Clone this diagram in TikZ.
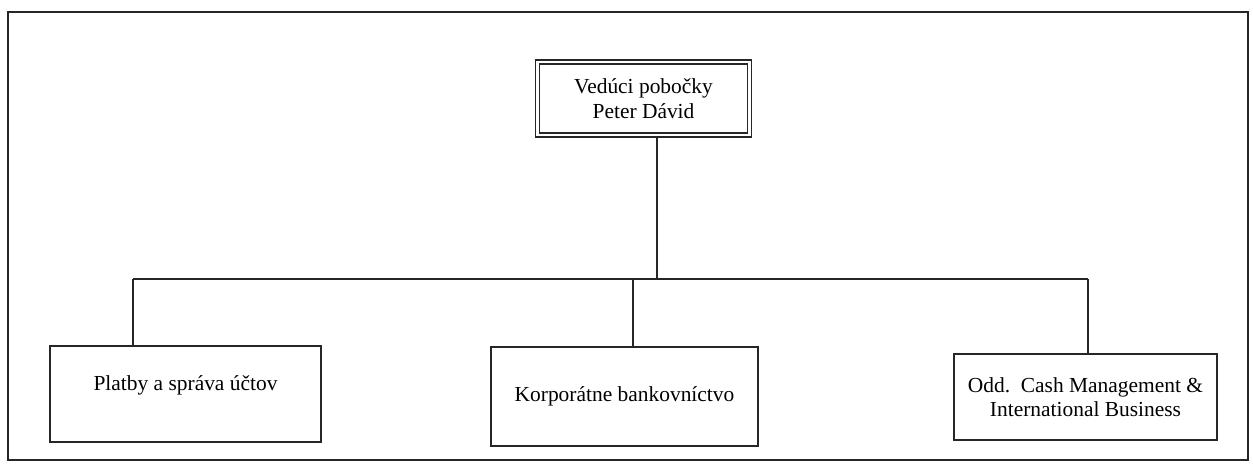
\documentclass[tikz,border=0pt]{standalone}
\usepackage{fontspec}
\setmainfont{Liberation Serif}
\usepackage{tikz}

\tikzset{
  unitbox/.style={draw=black!85, line width=0.8pt, rectangle, align=center,
    inner sep=2pt, font=\fontsize{12.2}{14}\selectfont},
  bossbox/.style={unitbox, double, double distance=1.5pt, line width=0.9pt},
  wire/.style={draw=black!85, line width=0.8pt}
}

\begin{document}
\begin{tikzpicture}[x=0.02cm, y=-0.02cm]
\useasboundingbox (0,0) rectangle (1253,463);
\draw[wire] (8,12) rectangle (1248,460);

\node[bossbox, minimum width=4.24cm, minimum height=1.46cm] (boss) at (643.5,98.5)
  {Vedúci pobočky\\Peter Dávid};

\node[unitbox, minimum width=5.42cm, minimum height=1.92cm, text depth=0.45cm] (plat) at (185.5,394)
  {Platby a správa účtov};
\node[unitbox, minimum width=5.34cm, minimum height=1.98cm] (korp) at (624.5,396.5)
  {Korporátne bankovníctvo};
\node[unitbox, minimum width=5.26cm, minimum height=1.72cm] (odd) at (1085.5,397)
  {Odd.\ \ Cash Management \&\\International Business};

\coordinate (bus) at (657,279);
\coordinate (busL) at (133,279);
\coordinate (busM) at (633,279);
\coordinate (busR) at (1088,279);

\draw[wire] (boss.south -| bus) -- (bus);
\draw[wire] (busL) -- (busR);
\draw[wire] (busL) -- (busL |- plat.north);
\draw[wire] (busM) -- (busM |- korp.north);
\draw[wire] (busR) -- (busR |- odd.north);
\end{tikzpicture}
\end{document}
